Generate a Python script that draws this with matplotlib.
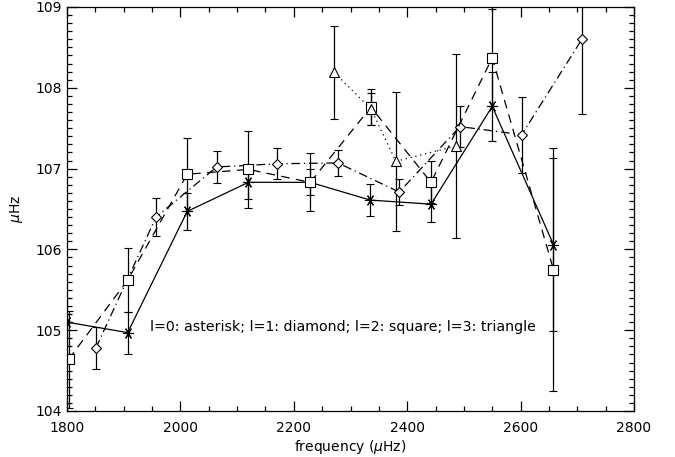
import matplotlib
matplotlib.use("Agg")
import matplotlib.pyplot as plt
from matplotlib.ticker import MultipleLocator

# l=0 (asterisk, solid)
f0 = [1800, 1907, 2012, 2120, 2229, 2335, 2442, 2550, 2658]
v0 = [105.10, 104.97, 106.47, 106.83, 106.83, 106.61, 106.56, 107.77, 106.06]
e0 = [0.30, 0.26, 0.23, 0.21, 0.16, 0.20, 0.22, 0.43, 1.07]

# l=1 (diamond, dash-dot)
f1 = [1851, 1957, 2064, 2171, 2278, 2386, 2493, 2602, 2708]
v1 = [104.78, 106.40, 107.02, 107.06, 107.07, 106.71, 107.52, 107.42, 108.60]
e1 = [0.26, 0.24, 0.20, 0.19, 0.16, 0.16, 0.25, 0.47, 0.92]

# l=2 (square, dashed)
f2 = [1803, 1907, 2012, 2120, 2229, 2336, 2442, 2550, 2658]
v2 = [104.64, 105.62, 106.93, 106.99, 106.83, 107.76, 106.83, 108.37, 105.75]
e2 = [0.60, 0.40, 0.45, 0.48, 0.36, 0.22, 0.26, 0.60, 1.50]

# l=3 (triangle, dotted)
f3 = [2271, 2336, 2380, 2486]
v3 = [108.19, 107.74, 107.09, 107.28]
e3 = [0.58, 0.20, 0.86, 1.14]

legend_text = "l=0: asterisk; l=1: diamond; l=2: square; l=3: triangle"

plt.rcParams['font.family'] = ['DejaVu Sans']
fig = plt.figure(figsize=(6.75, 4.57), dpi=100)
ax = fig.add_axes([67/675, 1-411/457, 567/675, 404/457])

kw = dict(color='black', ecolor='black', elinewidth=0.9, capsize=2.8, capthick=0.9,
          lw=0.9, mfc='white', mec='black', mew=0.8)
ax.errorbar(f0, v0, yerr=e0, marker=(6, 2, 90), ms=8, ls='-', **kw)
ax.errorbar(f1, v1, yerr=e1, marker='D', ms=5.5, ls=(0, (7, 3, 1, 3)), **kw)
ax.errorbar(f2, v2, yerr=e2, marker='s', ms=7, ls=(0, (7, 5)), **kw)
ax.errorbar(f3, v3, yerr=e3, marker='^', ms=7, ls=(0, (1, 3)), **kw)

ax.text(1946, 105.04, legend_text, fontsize=10.2, va='center', ha='left')

ax.set_xlim(1800, 2800)
ax.set_ylim(104, 109)
ax.xaxis.set_major_locator(MultipleLocator(200))
ax.xaxis.set_minor_locator(MultipleLocator(50))
ax.yaxis.set_major_locator(MultipleLocator(1))
ax.yaxis.set_minor_locator(MultipleLocator(0.1))
ax.tick_params(which='both', direction='in', top=True, right=True, width=0.9, labelsize=10)
ax.tick_params(which='major', length=7)
ax.tick_params(which='minor', length=3.5)
ax.tick_params(axis='x', pad=7)
for s in ax.spines.values():
    s.set_linewidth(0.9)

ax.set_xlabel(r"frequency ($\mu$Hz)", fontsize=10, labelpad=2)
ax.set_ylabel(r"$\mu$Hz", fontsize=10, labelpad=8)

fig.savefig("out.png", dpi=100)
